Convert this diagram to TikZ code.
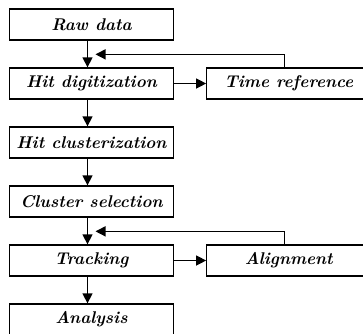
\documentclass[tikz,border=0pt]{standalone}
\usepackage{tikz}
\usetikzlibrary{arrows.meta,positioning}

\begin{document}
\begin{tikzpicture}[x=1pt,y=-1pt,->,>={Triangle[length=10pt,width=10pt]},
                    node distance=59pt,line width=1.3pt]
  \tikzstyle{stage}=[draw=black,text=black,minimum width=164pt,minimum height=31pt,
                     inner sep=1pt,font=\fontsize{17}{19}\selectfont\bfseries\itshape]
  \useasboundingbox (0,0) rectangle (363,333);
  \node[stage] (RAW) at (91.5,24.5) {Raw data};
  \node[stage] (DIG) [below of=RAW] {Hit digitization};
  \node[stage] (CLU) [below of=DIG] {Hit clusterization};
  \node[stage] (SEL) [below of=CLU] {Cluster selection};
  \node[stage] (TRK) [below of=SEL] {Tracking};
  \node[stage] (ANA) [below of=TRK] {Analysis};
  \node[stage] (TIME) [right=32pt of DIG] {Time reference};
  \node[stage] (ALI) [right=32pt of TRK] {Alignment};

  % main chain
  \draw ([xshift=-4pt]RAW.south) -- ([xshift=-4pt]DIG.north);
  \draw ([xshift=-4pt]DIG.south) -- ([xshift=-4pt]CLU.north);
  \draw ([xshift=-4pt]CLU.south) -- ([xshift=-4pt]SEL.north);
  \draw ([xshift=-4pt]SEL.south) -- ([xshift=-4pt]TRK.north);
  \draw ([xshift=-4pt]TRK.south) -- ([xshift=-4pt]ANA.north);

  % side loops
  \draw (DIG) -- (TIME);
  \draw ([xshift=-4pt]TIME.north) |- ([xshift=4pt,yshift=13pt]DIG.north);
  \draw (TRK) -- (ALI);
  \draw ([xshift=-4pt]ALI.north) |- ([xshift=4pt,yshift=13pt]TRK.north);
\end{tikzpicture}
\end{document}
